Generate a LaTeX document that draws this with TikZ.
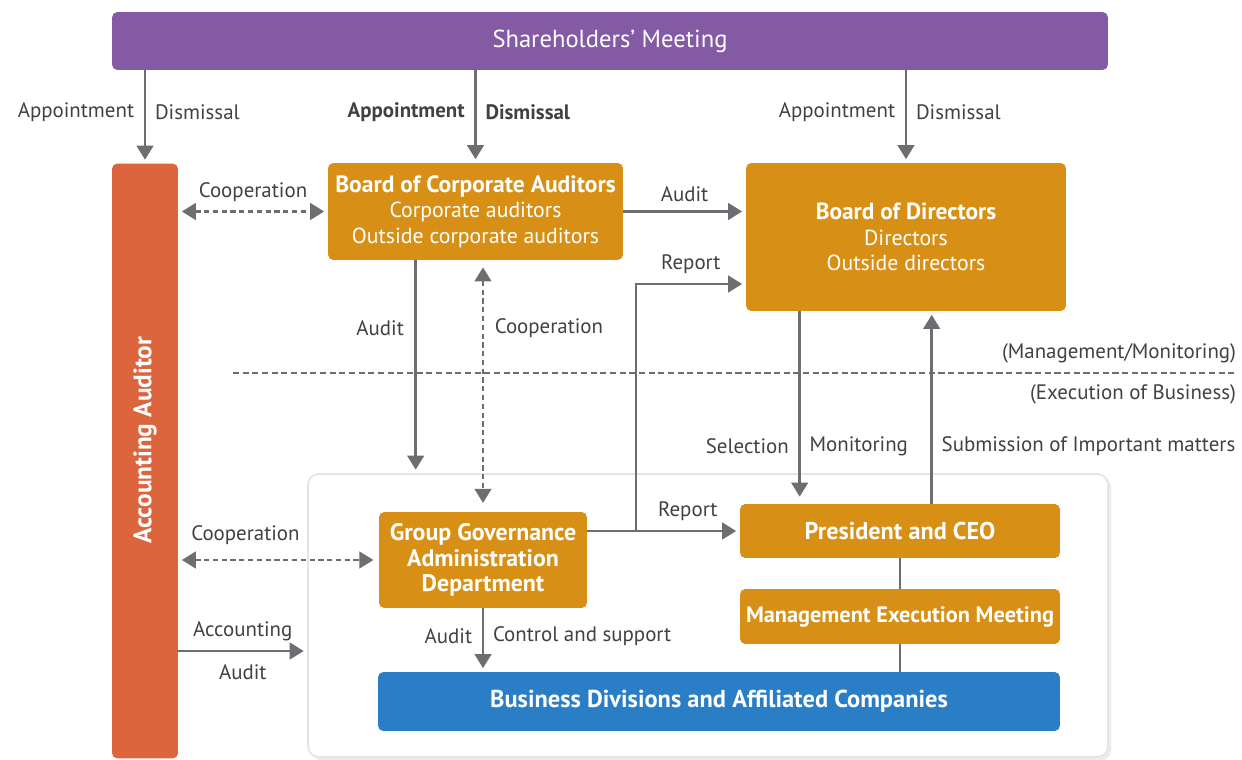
\documentclass[tikz,border=0pt]{standalone}
\usepackage{fontspec}
\setmainfont{PT Sans}
\usetikzlibrary{arrows.meta,calc,positioning,shadows}
\definecolor{smpurple}{HTML}{855AA5}
\definecolor{accred}{HTML}{DD653D}
\definecolor{boxgold}{HTML}{D79015}
\definecolor{bizblue}{HTML}{2A7EC5}
\definecolor{linegray}{HTML}{6D6E71}
\definecolor{textgray}{HTML}{414042}
\newcommand{\fsz}[1]{\fontsize{#1}{14.5}\selectfont}

\begin{document}
\begin{tikzpicture}[x=0.02cm,y=-0.02cm]
					\tikzset{>={Triangle[width=9.5pt,length=8pt]}}
					\tikzset{box/.style={rounded corners=3pt,fill=boxgold,text=white,align=center,inner sep=0pt,font=\fsz{12.4}}}
					\tikzset{lbl/.style={text=textgray,inner sep=2pt,font=\fsz{11.9}}}
					\tikzset{arr/.style={draw=linegray,line width=1.4pt,->,shorten >=2pt}}
					\tikzset{coop/.style={arr,<->,shorten <=2pt,dash pattern=on 3pt off 2pt}}
					\useasboundingbox (0,0) rectangle (1242,760);
					\node[rounded corners=6pt,fill=white,draw=black!10,line width=1pt,drop shadow={opacity=0.15,shadow xshift=2pt,shadow yshift=-2pt},minimum width=16cm,minimum height=5.66cm] (panel) at (708,615.5) {};
					\node[box,fill=smpurple,minimum width=19.92cm,minimum height=1.16cm,font=\fsz{14}] (sm) at (610,41) {Shareholders’ Meeting};
					\node[box,fill=accred,minimum width=1.32cm,minimum height=11.9cm] (acc) at (145,461) {};
					\node[box,fill=none,rotate=90,font=\fsz{14.4}\bfseries] (acctxt) at (145,440) {Accounting Auditor};
					\node[box,minimum width=5.9cm,minimum height=1.94cm] (bca) at (475.5,211.5) {{\fsz{13.4}\bfseries Board of Corporate Auditors}\\Corporate auditors\\Outside corporate auditors};
					\node[box,minimum width=6.4cm,minimum height=2.96cm] (bod) at (906,237) {{\fsz{13.3}\bfseries Board of Directors}\\Directors\\Outside directors};
					\node[box,minimum width=4.16cm,minimum height=1.92cm,font=\fsz{13.6}\bfseries] (ggad) at (483,560) {Group Governance\\Administration\\Department};
					\node[box,minimum width=6.4cm,minimum height=1.08cm,font=\fsz{13.8}\bfseries] (ceo) at (900,531) {President and CEO};
					\node[box,minimum width=6.4cm,minimum height=1.1cm,font=\fsz{12.7}\bfseries] (mem) at (900,616.5) {Management Execution Meeting};
					\node[box,fill=bizblue,minimum width=13.64cm,minimum height=1.18cm,font=\fsz{13.9}\bfseries] (biz) at (719,701.5) {Business Divisions and Affiliated Companies};
					\draw[arr] (sm.south -| acc.north) -- (acc.north) node[lbl,pos=0.45,left=3.5pt] {Appointment} node[lbl,pos=0.45,right=3pt] {Dismissal};
					\draw[arr] (sm.south -| bca.north) -- (bca.north) node[lbl,pos=0.45,left=3.5pt,font=\fsz{11.9}\bfseries] {Appointment} node[lbl,pos=0.45,right=3pt,font=\fsz{11.9}\bfseries] {Dismissal};
					\draw[arr] (sm.south -| bod.north) -- (bod.north) node[lbl,pos=0.45,left=3.5pt] {Appointment} node[lbl,pos=0.45,right=3pt] {Dismissal};
					\draw[coop] (acc.east |- bca.west) -- (bca.west) node[lbl,midway,above=3pt] {Cooperation};
					\draw[arr] (bca.east) -- (bca.east -| bod.west) node[lbl,midway,above=3pt] {Audit};
					\coordinate (rj) at (636,531);
					\draw[arr] (rj) |- ($(bod.west)+(0,47)$) node[lbl,pos=0.75,above=3pt] {Report};
					\draw[arr] (ggad.east |- ceo.west) -- (ceo.west) node[lbl,pos=0.66,above=3pt] {Report};
					\coordinate (ba) at ($(bca.south west)+(88,0)$);
					\draw[arr] (ba) -- (ba |- panel.north) node[lbl,pos=0.32,left=4pt] {Audit};
					\draw[coop,shorten >=5pt,shorten <=4pt] (bca.south -| ggad.north) -- (ggad.north) node[lbl,pos=0.27,right=4pt] {Cooperation};
					\coordinate (sepL) at (233,373);
					\coordinate (sepR) at (1237,373);
					\draw[linegray,line width=1.1pt,dash pattern=on 3.5pt off 2pt] (sepL) -- (sepR) node[lbl,pos=1,anchor=south east,inner xsep=0pt,inner ysep=5pt] {(Management/Monitoring)} node[lbl,pos=1,anchor=north east,inner xsep=0pt,inner ysep=6pt] {(Execution of Business)};
					\coordinate (sel) at ($(bod.south west)+(54,0)$);
					\draw[arr,shorten >=4pt] (sel) -- (sel |- ceo.north) node[lbl,pos=0.7,left=3.5pt] {Selection} node[lbl,pos=0.7,right=3pt] {Monitoring};
					\coordinate (sub) at ($(ceo.north west)+(192,0)$);
					\draw[arr,shorten >=2pt] (sub) -- (sub |- bod.south) node[lbl,pos=0.3,right=3pt] {Submission of Important matters};
					\draw[coop,shorten >=3pt] (acc.east |- ggad.west) -- (ggad.west) node[lbl,pos=0.335,above=6pt] {Cooperation};
					\coordinate (aa) at ($(acc.east)+(0,190)$);
					\draw[arr] (aa) -- (aa -| panel.west) node[lbl,midway,above=3pt] {Accounting} node[lbl,midway,below=5pt] {Audit};
					\draw[arr,shorten >=2pt] (ggad.south) -- (ggad.south |- biz.north) node[lbl,pos=0.44,left=3.5pt] {Audit} node[lbl,pos=0.44,right=3pt] {Control and support};
					\draw[linegray,line width=1.4pt] (ceo.south) -- (mem.north);
					\draw[linegray,line width=1.4pt] (mem.south) -- (mem.south |- biz.north);
				\end{tikzpicture}
\end{document}
